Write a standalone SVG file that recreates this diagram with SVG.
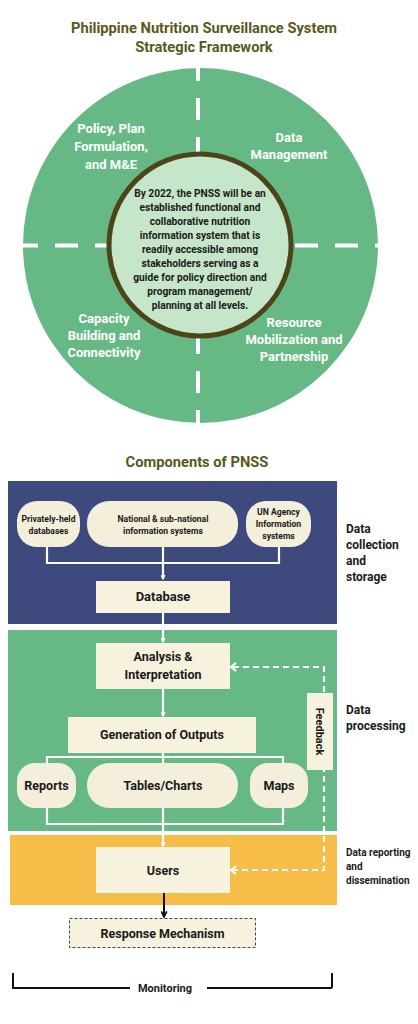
<svg xmlns="http://www.w3.org/2000/svg" width="418" height="1024" viewBox="0 0 418 1024">
<defs>
<style>
text{font-family:Roboto,"Liberation Sans",sans-serif;font-weight:bold;text-anchor:middle}
.title{font-size:14.7px;fill:#5a581c}
.seg{font-size:13px;fill:#ffffff}
.core{font-size:10.2px;fill:#1a1a1a}
.pill{fill:#f3efda}
.box{fill:#f6f2de}
.small{font-size:8.6px;fill:#1a1a1a}
.mid{font-size:12.5px;fill:#1a1a1a}
.side{font-size:12px;fill:#1a1a1a;text-anchor:start}
.side2{font-size:10px;fill:#1a1a1a;text-anchor:start}
.wl{stroke:#ffffff;stroke-width:2.2;fill:none}
.wd{stroke:#ffffff;stroke-width:2.2;fill:none;stroke-dasharray:6 4}
.bl{stroke:#111111;stroke-width:2;fill:none}
</style>
<marker id="aw" viewBox="0 0 10 10" refX="9" refY="5" markerWidth="5" markerHeight="5" orient="auto" markerUnits="userSpaceOnUse">
<path d="M1,1 L9,5 L1,9" fill="none" stroke="#ffffff" stroke-width="2.4"/>
</marker>
<marker id="ab" viewBox="0 0 10 10" refX="9" refY="5" markerWidth="7" markerHeight="7" orient="auto" markerUnits="userSpaceOnUse">
<path d="M1,1 L9,5 L1,9" fill="none" stroke="#111111" stroke-width="2.4"/>
</marker>
</defs>
<rect width="418" height="1024" fill="#ffffff"/>

<g id="title">
<text class="title" x="204" y="33">Philippine Nutrition Surveillance System</text>
<text class="title" x="204" y="52">Strategic Framework</text>
</g>

<g id="framework-circle">
<circle cx="200.5" cy="245.5" r="177.5" fill="#66b984"/>
<line x1="198" y1="68" x2="198" y2="423" stroke="#ffffff" stroke-width="4" stroke-dasharray="22 17" stroke-dashoffset="9"/>
<line x1="23" y1="245.5" x2="378" y2="245.5" stroke="#ffffff" stroke-width="4" stroke-dasharray="23 17" stroke-dashoffset="8"/>
</g>

<g id="seg-policy">
<text class="seg" x="111" y="133">Policy, Plan</text>
<text class="seg" x="111" y="151">Formulation,</text>
<text class="seg" x="111" y="169">and M&amp;E</text>
</g>
<g id="seg-data">
<text class="seg" x="289" y="142">Data</text>
<text class="seg" x="289" y="159">Management</text>
</g>
<g id="seg-capacity">
<text class="seg" x="104" y="323">Capacity</text>
<text class="seg" x="104" y="340">Building and</text>
<text class="seg" x="104" y="357">Connectivity</text>
</g>
<g id="seg-resource">
<text class="seg" x="294" y="327">Resource</text>
<text class="seg" x="294" y="344">Mobilization and</text>
<text class="seg" x="294" y="361">Partnership</text>
</g>

<g id="vision">
<circle cx="200" cy="245" r="91" fill="#c6e6c9" stroke="#4b4519" stroke-width="5"/>
<text class="core" x="200" y="197">By 2022, the PNSS will be an</text>
<text class="core" x="200" y="211">established functional and</text>
<text class="core" x="200" y="225">collaborative nutrition</text>
<text class="core" x="200" y="239">information system that is</text>
<text class="core" x="200" y="253">readily accessible among</text>
<text class="core" x="200" y="267">stakeholders serving as a</text>
<text class="core" x="200" y="281">guide for policy direction and</text>
<text class="core" x="200" y="295">program management/</text>
<text class="core" x="200" y="309">planning at all levels.</text>
</g>

<g id="components-title">
<text class="title" x="197" y="467">Components of PNSS</text>
</g>

<g id="band-collection">
<rect x="8" y="481" width="329" height="143" fill="#3e497d"/>
</g>
<g id="band-processing">
<rect x="8" y="630" width="329" height="201" fill="#66b984"/>
</g>
<g id="band-reporting">
<rect x="10" y="835" width="327" height="70" fill="#f6bd49"/>
</g>

<g id="connectors">
<path class="wl" d="M47,547 V563 H279 V547"/>
<path class="wl" d="M163,547 V579" marker-end="url(#aw)"/>
<path class="wl" d="M163,613 V642" marker-end="url(#aw)"/>
<path class="wl" d="M163,689 V716" marker-end="url(#aw)"/>
<path class="wl" d="M163,753 V763 M47,763 V757 H283 V763"/>
<path class="wl" d="M47,808 V824 H283 V808"/>
<path class="wl" d="M163,808 V846" marker-end="url(#aw)"/>
<path class="wd" d="M232,870 H324 V667 H232"/>
<path class="wl" d="M236,866 L231,870 L236,874 M236,663 L231,667 L236,671" stroke-width="2"/>
<path class="bl" d="M164,893 V917" marker-end="url(#ab)"/>
<path class="bl" d="M13,973 V988 H130 M207,988 H332 M332,973 V988"/>
</g>

<g id="node-private">
<rect class="pill" x="17" y="501" width="63" height="46" rx="20"/>
<text class="small" x="48.5" y="522">Privately-held</text>
<text class="small" x="48.5" y="534">databases</text>
</g>
<g id="node-national">
<rect class="pill" x="87" y="501" width="151" height="46" rx="22"/>
<text class="small" x="163" y="522">National &amp; sub-national</text>
<text class="small" x="163" y="534">information systems</text>
</g>
<g id="node-un">
<rect class="pill" x="246" y="501" width="65" height="46" rx="20"/>
<text class="small" x="278.5" y="515">UN Agency</text>
<text class="small" x="278.5" y="527">Information</text>
<text class="small" x="278.5" y="539">systems</text>
</g>
<g id="node-database">
<rect class="box" x="96" y="581" width="134" height="32"/>
<text class="mid" x="163" y="601" style="font-size:13px">Database</text>
</g>
<g id="node-analysis">
<rect class="box" x="96" y="643" width="134" height="46"/>
<text class="mid" x="163" y="661">Analysis &amp;</text>
<text class="mid" x="163" y="679">Interpretation</text>
</g>
<g id="node-generation">
<rect class="box" x="68" y="717" width="188" height="36"/>
<text class="mid" x="162" y="739">Generation of Outputs</text>
</g>
<g id="node-reports">
<rect class="pill" x="17" y="763" width="59" height="45" rx="18"/>
<text class="mid" x="46.5" y="790">Reports</text>
</g>
<g id="node-tables">
<rect class="pill" x="87" y="763" width="151" height="45" rx="22"/>
<text class="mid" x="163" y="790">Tables/Charts</text>
</g>
<g id="node-maps">
<rect class="pill" x="250" y="763" width="58" height="45" rx="18"/>
<text class="mid" x="279" y="790">Maps</text>
</g>
<g id="node-feedback">
<rect class="box" x="307" y="693" width="26" height="77"/>
<text class="mid" x="0" y="0" style="font-size:11px" transform="translate(316,731.5) rotate(90)">Feedback</text>
</g>
<g id="node-users">
<rect class="box" x="96" y="847" width="134" height="46"/>
<text class="mid" x="163" y="875">Users</text>
</g>
<g id="node-response">
<rect x="69.5" y="918.5" width="186" height="29" fill="#f6f2de" stroke="#444444" stroke-width="1" stroke-dasharray="3 2"/>
<text class="mid" x="162.5" y="938">Response Mechanism</text>
</g>
<g id="monitoring">
<text class="mid" x="165" y="992" style="font-size:11px">Monitoring</text>
</g>

<g id="side-labels">
<text class="side" x="346" y="533">Data</text>
<text class="side" x="346" y="549">collection</text>
<text class="side" x="346" y="565">and</text>
<text class="side" x="346" y="581">storage</text>
<text class="side" x="346" y="714">Data</text>
<text class="side" x="346" y="730">processing</text>
<text class="side2" x="346" y="856">Data reporting</text>
<text class="side2" x="346" y="870">and</text>
<text class="side2" x="346" y="884">dissemination</text>
</g>
</svg>
